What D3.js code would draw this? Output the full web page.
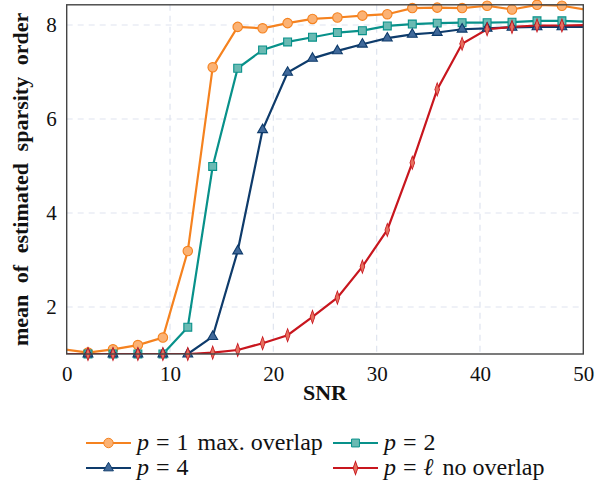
<!DOCTYPE html>
<html>
<head>
<meta charset="utf-8">
<script src="https://cdn.jsdelivr.net/npm/d3@7"></script>
<style>
body { margin: 0; background: white; }
svg { display: block; }
text { font-family: "Liberation Serif", "Times New Roman", serif; fill: #111; }
</style>
</head>
<body>
<div id="chart"></div>
<script>
var svgWidth = 611;
var svgHeight = 491;
var margin = {top: 4.8, left: 66.7, right: 27.7, bottom: 137};
var plotWidth = svgWidth - margin.left - margin.right;
var plotHeight = svgHeight - margin.top - margin.bottom;

// SNR grid (dB)
var snr = [-0.35, 2.06, 4.48, 6.89, 9.31, 11.72, 14.13, 16.55, 18.96, 21.38, 23.79,
	26.2, 28.62, 31.03, 33.45, 35.86, 38.27, 40.69, 43.1, 45.52, 47.93, 50.35];

var p1 = [1.1, 1.03, 1.1, 1.19, 1.35, 3.19, 7.1, 7.96, 7.93, 8.04, 8.13,
	8.16, 8.2, 8.23, 8.36, 8.37, 8.36, 8.41, 8.33, 8.43, 8.41, 8.32];
var p2 = [1.0, 1.0, 1.0, 1.0, 1.0, 1.57, 4.99, 7.08, 7.47, 7.64, 7.74,
	7.84, 7.88, 7.98, 8.02, 8.04, 8.05, 8.05, 8.06, 8.09, 8.09, 8.07];
var p4 = [1.0, 1.0, 1.0, 1.0, 1.0, 1.0, 1.37, 3.19, 5.77, 6.99, 7.29,
	7.45, 7.59, 7.72, 7.8, 7.84, 7.91, 7.93, 7.95, 7.96, 7.96, 7.96];
var pl = [1.0, 1.0, 1.0, 1.0, 1.0, 1.0, 1.03, 1.085, 1.23, 1.4, 1.79,
	2.2, 2.86, 3.64, 5.07, 6.63, 7.6, 7.91, 7.96, 7.99, 7.99, 8.0];

var xTicks = [0, 10, 20, 30, 40, 50];
var yTicks = [2, 4, 6, 8];

var seriesList = [
	{name: "p1", values: p1, line: "#f5821f", fill: "#fbb274", marker: "circle"},
	{name: "p2", values: p2, line: "#08918a", fill: "#6abab3", marker: "square"},
	{name: "p4", values: p4, line: "#0e3b6b", fill: "#40699a", marker: "triangle"},
	{name: "pl", values: pl, line: "#c8161e", fill: "#e6705f", marker: "diamond"}
];

var svg = d3.select("#chart")
	.append("svg")
	.attr("width", svgWidth)
	.attr("height", svgHeight);

var x = d3.scaleLinear().domain([0, 50]).range([0, plotWidth]);
var y = d3.scaleLinear().domain([1, 8.43]).range([plotHeight, 0]);

var g = svg.append("g")
	.attr("transform", "translate(" + margin.left + "," + margin.top + ")");

svg.append("defs")
	.append("clipPath")
	.attr("id", "plot-clip")
	.append("rect")
	.attr("width", plotWidth)
	.attr("height", plotHeight);

// grid
g.append("g")
	.selectAll("line")
	.data(xTicks.slice(1, -1))
	.enter()
	.append("line")
	.attr("x1", function(d){return x(d)})
	.attr("x2", function(d){return x(d)})
	.attr("y1", 0)
	.attr("y2", plotHeight)
	.attr("stroke", "#dfe4ef")
	.attr("stroke-width", 1.2)
	.attr("stroke-dasharray", "6,5");

g.append("g")
	.selectAll("line")
	.data(yTicks)
	.enter()
	.append("line")
	.attr("x1", 0)
	.attr("x2", plotWidth)
	.attr("y1", function(d){return y(d)})
	.attr("y2", function(d){return y(d)})
	.attr("stroke", "#dfe4ef")
	.attr("stroke-width", 1.2)
	.attr("stroke-dasharray", "6,5");

// axes (labels only, no tick marks)
var xAxis = g.append("g")
	.attr("transform", "translate(0," + plotHeight + ")")
	.call(d3.axisBottom(x).tickValues(xTicks).tickSize(0).tickPadding(12));
var yAxis = g.append("g")
	.call(d3.axisLeft(y).tickValues(yTicks).tickSize(0).tickPadding(10));
[xAxis, yAxis].forEach(function(a) {
	a.attr("font-family", null).attr("font-size", null);
	a.select(".domain").remove();
	a.selectAll("text")
		.style("font-family", '"Liberation Serif", "Times New Roman", serif')
		.style("font-size", "21px")
		.attr("fill", "#111");
});

var line = d3.line()
	.x(function(d){return x(d[0])})
	.y(function(d){return y(d[1])});

var symbolTypes = {
	circle: d3.symbol().type(d3.symbolCircle).size(70),
	square: d3.symbol().type(d3.symbolSquare).size(62),
	triangle: d3.symbol().type(d3.symbolTriangle).size(42),
	diamond: d3.symbol().type(d3.symbolDiamond).size(30)
};

var linesGroup = g.append("g").attr("clip-path", "url(#plot-clip)");
var markersGroup = g.append("g");

seriesList.forEach(function(s) {
	var pts = snr.map(function(v, i){return [v, s.values[i]]});
	linesGroup.append("path")
		.datum(pts)
		.attr("d", line)
		.attr("fill", "none")
		.attr("stroke", s.line)
		.attr("stroke-width", 2.2);
	markersGroup.append("g")
		.selectAll("path")
		.data(pts.filter(function(d){return d[0] >= 0 && d[0] <= 50}))
		.enter()
		.append("path")
		.attr("d", symbolTypes[s.marker])
		.attr("transform", function(d){
			var sy = s.marker === "diamond" ? " scale(0.8,1.3)" : "";
			return "translate(" + x(d[0]) + "," + y(d[1]) + ")" + sy;
		})
		.attr("fill", s.fill)
		.attr("stroke", s.line)
		.attr("stroke-width", s.marker === "diamond" ? 0.9 : 1.1);
});

// frame
g.append("rect")
	.attr("width", plotWidth)
	.attr("height", plotHeight)
	.attr("fill", "none")
	.attr("stroke", "#444")
	.attr("stroke-width", 1.4);

// axis titles
svg.append("text")
	.attr("x", margin.left + plotWidth / 2)
	.attr("y", 400)
	.attr("text-anchor", "middle")
	.style("font-size", "22px")
	.style("font-weight", "bold")
	.text("SNR");

svg.append("text")
	.attr("transform", "translate(28," + (margin.top + plotHeight / 2) + ") rotate(-90)")
	.attr("text-anchor", "middle")
	.style("font-size", "22px")
	.style("font-weight", "bold")
	.style("word-spacing", "6px")
	.text("mean of estimated sparsity order");

// legend
var legendData = [
	{s: seriesList[0], lx: 86, ly: 443, sym: "1", rest: "max. overlap"},
	{s: seriesList[1], lx: 333, ly: 443, sym: "2", rest: ""},
	{s: seriesList[2], lx: 86, ly: 468, sym: "4", rest: ""},
	{s: seriesList[3], lx: 333, ly: 468, sym: "\u2113", rest: "no overlap"}
];

var legend = svg.append("g");
legendData.forEach(function(d) {
	var item = legend.append("g").attr("transform", "translate(" + d.lx + "," + d.ly + ")");
	item.append("line")
		.attr("x1", 0).attr("x2", 45)
		.attr("stroke", d.s.line)
		.attr("stroke-width", 2.2);
	item.append("path")
		.attr("d", symbolTypes[d.s.marker])
		.attr("transform", "translate(22.5,0)" + (d.s.marker === "diamond" ? " scale(0.8,1.3)" : ""))
		.attr("fill", d.s.fill)
		.attr("stroke", d.s.line)
		.attr("stroke-width", 1);
	var t = item.append("text")
		.attr("x", 51)
		.attr("y", 7)
		.style("font-size", "24px");
	t.append("tspan").style("font-style", "italic").text("p");
	t.append("tspan").attr("dx", 7).text("=");
	t.append("tspan").attr("dx", 7).style("font-style", d.sym === "\u2113" ? "italic" : "normal").text(d.sym);
	if (d.rest) t.append("tspan").attr("dx", 9).text(d.rest);
});
</script>
</body>
</html>
